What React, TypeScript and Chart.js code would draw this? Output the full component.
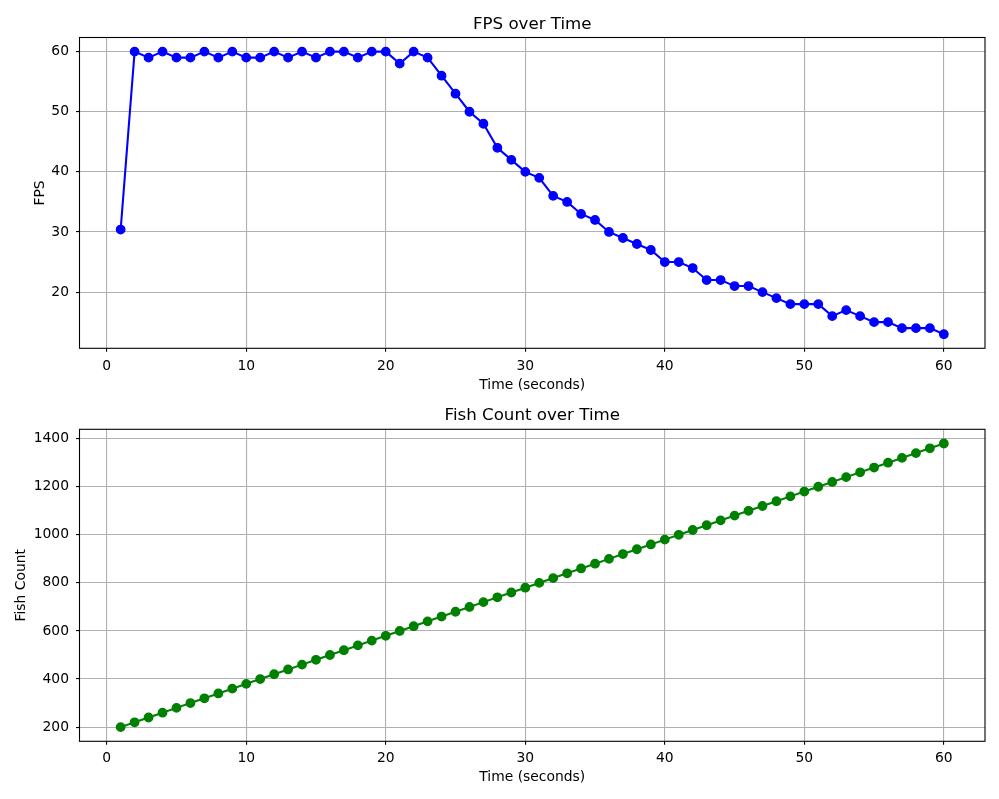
import React, { useEffect, useRef } from "react";
import { Chart, registerables } from "chart.js";

Chart.register(...registerables);

const times = [
  1, 2, 3, 4, 5, 6, 7, 8, 9, 10, 11, 12, 13, 14, 15, 16, 17, 18, 19, 20,
  21, 22, 23, 24, 25, 26, 27, 28, 29, 30, 31, 32, 33, 34, 35, 36, 37, 38, 39, 40,
  41, 42, 43, 44, 45, 46, 47, 48, 49, 50, 51, 52, 53, 54, 55, 56, 57, 58, 59, 60,
];

const fpsValues = [
  30.4, 60, 59, 60, 59, 59, 60, 59, 60, 59, 59, 60, 59, 60, 59, 60, 60, 59, 60, 60,
  58, 60, 59, 56, 53, 50, 48, 44, 42, 40, 39, 36, 35, 33, 32, 30, 29, 28, 27, 25,
  25, 24, 22, 22, 21, 21, 20, 19, 18, 18, 18, 16, 17, 16, 15, 15, 14, 14, 14, 13,
];

const fishCounts = [
  200, 220, 240, 260, 280, 300, 320, 340, 360, 380, 400, 420, 440, 460, 480, 500, 520, 540, 560, 580,
  600, 620, 640, 660, 680, 700, 720, 740, 760, 780, 800, 820, 840, 860, 880, 900, 920, 940, 960, 980,
  1000, 1020, 1040, 1060, 1080, 1100, 1120, 1140, 1160, 1180, 1200, 1220, 1240, 1260, 1280, 1300, 1320, 1340, 1360, 1380,
];

const timeTicks = [0, 10, 20, 30, 40, 50, 60];
const fpsTicks = [20, 30, 40, 50, 60];
const fishTicks = [200, 400, 600, 800, 1000, 1200, 1400];

const FONT = "'DejaVu Sans', sans-serif";

const spinesPlugin = {
  id: "spines",
  afterDatasetsDraw(chart: any) {
    const { ctx, chartArea: a } = chart;
    ctx.save();
    ctx.strokeStyle = "#000";
    ctx.lineWidth = 1.1;
    ctx.strokeRect(a.left, a.top, a.right - a.left, a.bottom - a.top);
    ctx.restore();
  },
};

type PanelProps = {
  top: number;
  height: number;
  title: string;
  titlePadTop: number;
  titlePadBottom: number;
  yLabel: string;
  yLabelPad: number;
  xLabelPad: number;
  xTickPad: number;
  xAxisHeight: number;
  values: number[];
  yTicks: number[];
  yMin: number;
  yMax: number;
  color: string;
};

function Panel(p: PanelProps) {
  const ref = useRef<HTMLCanvasElement | null>(null);
  useEffect(() => {
    if (!ref.current) return;
    const tickFont = { family: FONT, size: 13.89 };
    const chart = new Chart(ref.current, {
      type: "line",
      data: {
        datasets: [
          {
            data: times.map((t, i) => ({ x: t, y: p.values[i] })),
            borderColor: p.color,
            backgroundColor: p.color,
            borderWidth: 2.08,
            pointRadius: 4.2,
            pointBorderWidth: 1.39,
            pointBackgroundColor: p.color,
            pointBorderColor: p.color,
            tension: 0,
            fill: false,
          },
        ],
      },
      options: {
        animation: false,
        responsive: false,
        devicePixelRatio: 1,
        layout: { padding: { left: 0, right: 14, top: 0, bottom: 0 } },
        plugins: {
          legend: { display: false },
          tooltip: { enabled: false },
          title: {
            display: true,
            fullSize: false,
            text: p.title,
            color: "#000",
            font: { family: FONT, size: 16.67, weight: "normal", lineHeight: 1.2 },
            padding: { top: p.titlePadTop, bottom: p.titlePadBottom },
          },
        },
        scales: {
          x: {
            type: "linear",
            min: -1.95,
            max: 62.95,
            afterBuildTicks: (scale: any) => {
              scale.ticks = timeTicks.map((v) => ({ value: v }));
            },
            afterFit: (scale: any) => {
              scale.height = p.xAxisHeight;
            },
            ticks: {
              color: "#000",
              font: tickFont,
              padding: p.xTickPad,
              maxRotation: 0,
              autoSkip: false,
              callback: (v: any) => String(v),
            },
            grid: {
              color: "#b0b0b0",
              lineWidth: 1.1,
              drawTicks: true,
              tickLength: 3.5,
              tickColor: "#000",
              tickWidth: 1.1,
            },
            border: { display: false },
            title: {
              display: true,
              text: "Time (seconds)",
              color: "#000",
              font: { family: FONT, size: 13.89, lineHeight: 1.2 },
              padding: { top: 0, bottom: p.xLabelPad },
            },
          },
          y: {
            type: "linear",
            min: p.yMin,
            max: p.yMax,
            afterBuildTicks: (scale: any) => {
              scale.ticks = p.yTicks.map((v) => ({ value: v }));
            },
            afterFit: (scale: any) => {
              scale.width = 79.5;
            },
            ticks: {
              color: "#000",
              font: tickFont,
              padding: 7,
              autoSkip: false,
              callback: (v: any) => String(v),
            },
            grid: {
              color: "#b0b0b0",
              lineWidth: 1.1,
              drawTicks: true,
              tickLength: 3.5,
              tickColor: "#000",
              tickWidth: 1.1,
            },
            border: { display: false },
            title: {
              display: true,
              text: p.yLabel,
              color: "#000",
              font: { family: FONT, size: 13.89, lineHeight: 1.2 },
              padding: { top: p.yLabelPad, bottom: 0 },
            },
          },
        },
      },
      plugins: [spinesPlugin],
    } as any);
    return () => chart.destroy();
  }, []);
  return (
    <canvas
      ref={ref}
      width={999}
      height={p.height}
      style={{ position: "absolute", left: 0, top: p.top, display: "block" }}
    />
  );
}

export default function App() {
  return (
    <div
      style={{
        position: "absolute",
        left: 0,
        top: 0,
        width: 999,
        height: 799,
        background: "#fff",
        overflow: "hidden",
      }}
    >
      <Panel
        top={0}
        height={400}
        title="FPS over Time"
        titlePadTop={14.35}
        titlePadBottom={3.15}
        yLabel="FPS"
        yLabelPad={32.4}
        xLabelPad={6.5}
        xTickPad={6}
        xAxisHeight={51.7}
        values={fpsValues}
        yTicks={fpsTicks}
        yMin={10.65}
        yMax={62.35}
        color="#0000ff"
      />
      <Panel
        top={400}
        height={399}
        title="Fish Count over Time"
        titlePadTop={6.05}
        titlePadBottom={3.25}
        yLabel="Fish Count"
        yLabelPad={13}
        xLabelPad={13.5}
        xTickPad={5.2}
        xAxisHeight={57.7}
        values={fishCounts}
        yTicks={fishTicks}
        yMin={141}
        yMax={1439}
        color="#008000"
      />
    </div>
  );
}
